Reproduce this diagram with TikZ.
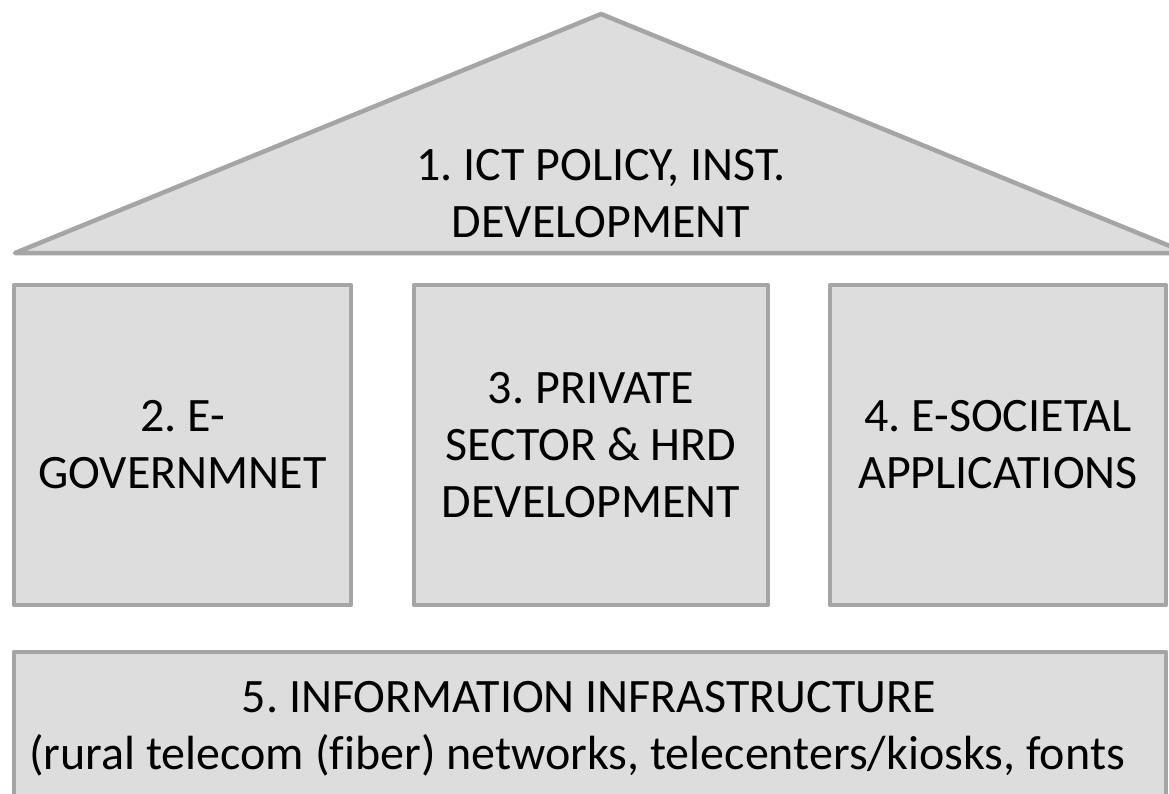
\documentclass[tikz,border=0pt]{standalone}
\usepackage{fontspec}
\setmainfont{Carlito}[Ligatures=NoCommon]
\frenchspacing
\definecolor{pillarfill}{HTML}{DDDDDD}
\definecolor{pillarline}{HTML}{A5A5A5}
\tikzset{
  part/.style={draw=pillarline, fill=pillarfill, line width=4.5pt, line join=round},
  pillar/.style={part, rectangle, inner sep=0pt, minimum height=320pt},
  label/.style={align=center, inner sep=0pt, font=\fontsize{48}{57}\selectfont, text=black}
}
\begin{document}
\begin{tikzpicture}[x=1pt, y=-1pt]
  \useasboundingbox (0,0) rectangle (1169,793);
  \clip (0,0) rectangle (1169,793);
  % roof
  \draw[part] (15,253) coordinate (roofL) -- (601,14) coordinate (roofT)
              -- (1187,253) coordinate (roofR) -- cycle;
  \node[label, anchor=base] (roof) at (601,180) {1. ICT POLICY, INST.};
  \node[label, anchor=base] (roofB) at (601,237) {DEVELOPMENT};
  % pillars
  \node[pillar, minimum width=337pt] (egov) at (182.5,445) {};
  \node[pillar, minimum width=354pt] (priv) at (591,445) {};
  \node[pillar, minimum width=336pt] (esoc) at (998,445) {};
  \node[label] (egovT) at (egov.center) {2. E-\\GOVERNMNET};
  \node[label] (privT) at (priv.center) {3. PRIVATE\\SECTOR \& HRD\\DEVELOPMENT};
  \node[label] (esocT) at (esoc.center) {4. E-SOCIETAL\\APPLICATIONS};
  % foundation
  \node[part, rectangle, inner sep=0pt, minimum width=1152pt, minimum height=180pt] (base) at (590,742) {};
  \node[label, anchor=base] (baseA) at (589,712) {5. INFORMATION INFRASTRUCTURE};
  \node[label, anchor=base] (baseB) at (577,769) {(rural telecom (fiber) networks, telecenters/kiosks, fonts};
\end{tikzpicture}
\end{document}
